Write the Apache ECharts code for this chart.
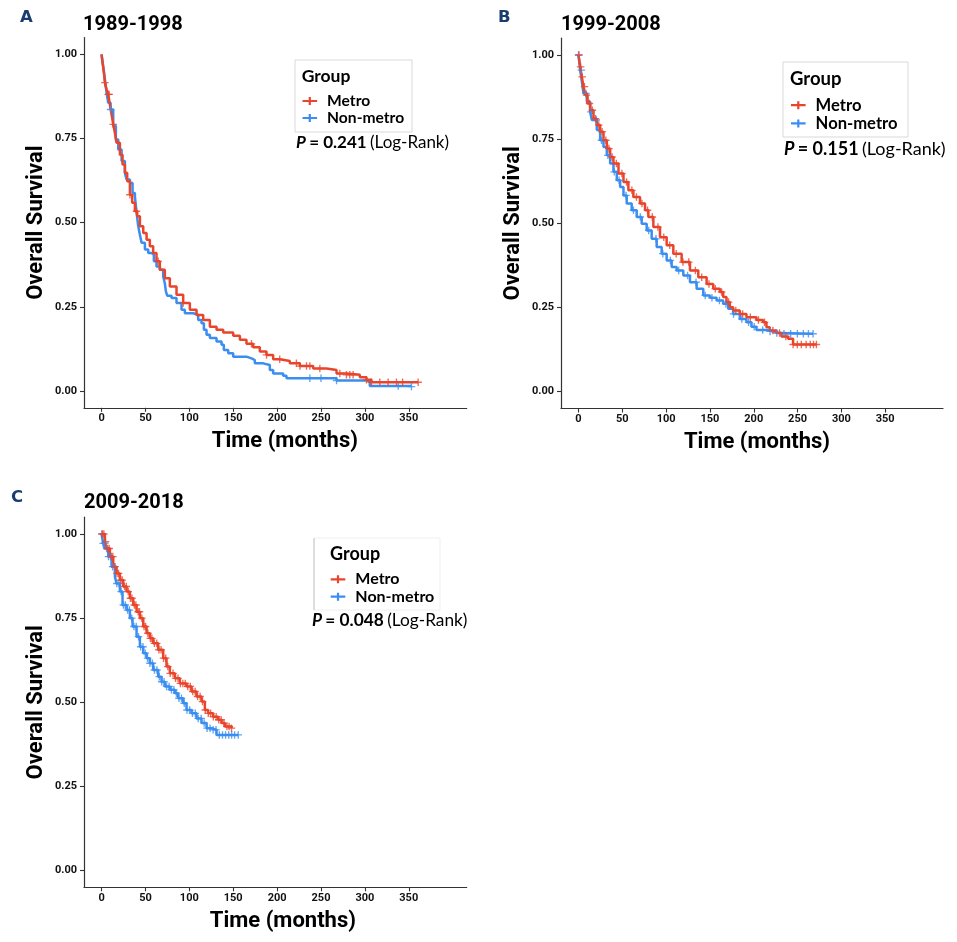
<!DOCTYPE html>
<html>
<head>
<meta charset="utf-8">
<script src="https://cdn.jsdelivr.net/npm/echarts@6/dist/echarts.min.js"></script>
<style>html,body{margin:0;padding:0;background:#fff}#c{width:957px;height:942px}</style>
</head>
<body>
<div id="c"></div>
<script>
// ---------- data (time in months, overall survival) ----------
const panelTitles = ['1989-1998', '1999-2008', '2009-2018'];
const panelLetters = ['A', 'B', 'C'];
const groups = ['Metro', 'Non-metro'];
const pValues = ['0.241', '0.151', '0.048'];
const xTicks = [0, 50, 100, 150, 200, 250, 300, 350];
const yTicks = [0, 0.25, 0.5, 0.75, 1];

const metroA = [[0,1],[1.1,0.975],[2.7,0.945],[3.8,0.916],[5.7,0.896],[7.6,0.881],[9.5,0.851],[11.4,0.821],[13.3,0.792],[15.2,0.767],[17.1,0.737],[20.9,0.702],[23.9,0.673],[26.6,0.648],[29.2,0.623],[32.3,0.583],[34.9,0.559],[38,0.534],[40.6,0.519],[43.7,0.489],[47.5,0.469],[51.3,0.449],[55,0.43],[58.8,0.41],[62.6,0.385],[66.4,0.36],[72.1,0.335],[77.8,0.31],[85.4,0.286],[93,0.261],[100.6,0.241],[108.2,0.226],[115.8,0.211],[123.4,0.191],[131,0.182],[138.6,0.174],[150,0.164],[157.6,0.152],[165.1,0.14],[172.7,0.13],[180.3,0.117],[187.9,0.107],[195.5,0.094],[203.1,0.089],[214.5,0.082],[225.9,0.074],[241.1,0.067],[256.3,0.062],[267.7,0.052],[279,0.048],[294.2,0.041],[301.8,0.033],[307.5,0.026],[360.7,0.026]];
const nonMetroA = [[0,1],[1.9,0.965],[3.8,0.926],[5.7,0.886],[7.6,0.856],[10.3,0.836],[13.3,0.787],[16.3,0.747],[19,0.717],[22.8,0.683],[26.6,0.648],[28.5,0.628],[32.3,0.618],[35.3,0.588],[38,0.578],[39.9,0.529],[41.8,0.489],[43.7,0.464],[45.6,0.44],[49.4,0.42],[53.2,0.41],[56.9,0.405],[59.6,0.385],[62.6,0.37],[66.4,0.36],[70.2,0.34],[72.1,0.32],[73.3,0.296],[74.8,0.283],[79.7,0.276],[85.4,0.261],[91.1,0.241],[94.9,0.231],[104.4,0.226],[110.1,0.211],[113.9,0.201],[116.6,0.182],[119.6,0.167],[123.4,0.157],[131,0.147],[136.7,0.137],[139.3,0.122],[144.3,0.112],[150,0.102],[165.1,0.097],[170.8,0.092],[174.6,0.082],[184.1,0.077],[191.7,0.062],[195.5,0.052],[206.9,0.045],[210.7,0.038],[267.7,0.031],[301.8,0.028],[305.6,0.015],[353.1,0.013]];
const metroB = [[0,1],[1.9,0.965],[3.8,0.935],[5.7,0.906],[7.6,0.881],[10.3,0.856],[13.3,0.836],[17.1,0.811],[20.9,0.792],[24.7,0.772],[28.5,0.747],[32.3,0.722],[36.1,0.697],[39.9,0.678],[45.6,0.648],[51.3,0.623],[56.9,0.598],[62.6,0.578],[70.2,0.559],[75.9,0.539],[79.7,0.519],[85.4,0.489],[93,0.459],[100.6,0.435],[108.2,0.41],[117.7,0.385],[127.2,0.36],[136.7,0.34],[146.2,0.32],[153.8,0.306],[161.4,0.296],[165.1,0.281],[168.9,0.266],[172.7,0.251],[176.5,0.241],[184.1,0.231],[191.7,0.221],[203.1,0.213],[210.7,0.206],[214.5,0.191],[218.3,0.182],[225.9,0.174],[231.6,0.164],[239.2,0.157],[244.9,0.14],[271.5,0.14]];
const nonMetroB = [[0,1],[1.9,0.955],[3.8,0.921],[5.7,0.886],[9.5,0.861],[13.3,0.831],[15.2,0.807],[20.9,0.777],[24.7,0.747],[28.5,0.727],[32.3,0.702],[36.1,0.678],[39.9,0.653],[43.7,0.628],[47.5,0.608],[51.3,0.583],[55,0.559],[60.7,0.539],[66.4,0.519],[72.1,0.499],[77.8,0.479],[83.5,0.454],[89.2,0.43],[94.9,0.41],[100.6,0.39],[106.3,0.37],[112,0.36],[119.6,0.345],[127.2,0.325],[134.8,0.306],[142.4,0.286],[150,0.279],[157.6,0.271],[165.1,0.261],[170.8,0.246],[176.5,0.231],[184.1,0.216],[191.7,0.206],[197.4,0.193],[203.1,0.183],[214.5,0.179],[222.1,0.174],[229.7,0.172],[267.7,0.172]];
const metroC = [[0,1],[3.8,0.977],[5.7,0.957],[9.5,0.933],[13.3,0.903],[17.1,0.883],[20.9,0.863],[24.7,0.844],[28.5,0.829],[32.3,0.809],[36.1,0.789],[39.9,0.769],[43.7,0.75],[47.5,0.725],[51.3,0.705],[55,0.69],[58.8,0.675],[64.5,0.656],[70.2,0.631],[74,0.606],[77.8,0.586],[83.5,0.571],[89.2,0.556],[96.8,0.547],[102.5,0.532],[108.2,0.517],[113.9,0.502],[117.7,0.477],[121.5,0.467],[127.2,0.457],[132.9,0.448],[136.7,0.438],[140.5,0.428],[148.1,0.423]];
const nonMetroC = [[0,1],[1.9,0.972],[3.8,0.957],[7.6,0.933],[11.4,0.903],[15.2,0.873],[17.1,0.853],[20.9,0.829],[23.9,0.789],[28.5,0.774],[32.3,0.75],[35.3,0.725],[39.9,0.695],[43.7,0.665],[47.5,0.646],[51.3,0.631],[55,0.616],[58.8,0.596],[64.5,0.576],[68.3,0.561],[72.1,0.547],[77.8,0.537],[83.5,0.527],[87.3,0.512],[93,0.497],[96.8,0.477],[102.5,0.467],[108.2,0.452],[113.9,0.438],[119.6,0.423],[125.3,0.418],[131,0.403],[155.7,0.403]];

// censored observation times (months)
const censMetroA = [3.8,7.6,8.7,13.3,32.3,39.8,64.5,93,170.8,187.9,203,222,226,233.5,237.3,248.7,271.5,279,282.8,286.6,301.8,307.5,317,326.5,336,343,360.7];
const censNonMetroA = [10.3,237.3,250,267.7,338,353.1];
const censMetroB = [0.5,2.4,4.2,6.8,9.1,12.5,15.8,19.4,23.1,26.9,31.2,34.7,38.3,43.2,49.5,54.8,60.9,66.1,72.4,78.8,84.2,90.6,97.3,104.1,111.5,119.2,125.8,133.4,140.6,148.9,156.1,163.3,171.2,179.5,187.3,196.1,205.4,212.3,221.8,229.4,236.6,244.9,249.7,254.3,259.8,264.5,268.2,271.5];
const censNonMetroB = [0,3.2,8.4,14.1,20.3,26.2,33.5,40.8,46.3,54.2,62.7,70.5,80.1,88.4,96.2,104.8,114.3,124.5,134.1,144.6,152.3,160.8,168.2,176.9,186.4,194.1,200.5,210.2,218.6,226.3,234.5,242.1,249.8,256.6,262.4,267.7];
const censMetroC = [0.8,2.6,4.5,6.9,8.7,11.2,12.8,15.3,17.6,19.4,21.8,23.5,26.1,28.2,30.4,32.9,34.6,37.3,39.1,41.7,43.2,45.9,48.4,50.2,52.8,55.6,57.3,60.2,62.9,65.4,67.8,70.6,73.1,75.5,78.2,81.4,84.3,87.1,89.8,92.6,95.3,98.2,101.1,103.9,106.6,109.4,112.3,115.1,118.2,121.6,124.3,127.4,130.6,133.5,136.2,139.4,142.8,145.3,148.1];
const censNonMetroC = [0.4,1.9,3.6,5.8,7.9,10.2,12.6,14.8,17.4,19.8,22.3,24.9,27.1,29.6,31.8,34.4,36.9,39.5,42.1,44.6,47.2,49.8,52.4,55.1,57.9,60.3,63.1,65.8,68.6,71.2,74.1,76.9,79.6,82.4,85.3,88.2,91.1,94.2,97.3,100.4,103.6,106.8,110.1,113.5,116.9,120.2,123.6,127.1,130.4,134.2,137.8,141.3,144.9,148.2,151.6,155.7];

const curves = [[metroA, nonMetroA], [metroB, nonMetroB], [metroC, nonMetroC]];
const censors = [[censMetroA, censNonMetroA], [censMetroB, censNonMetroB], [censMetroC, censNonMetroC]];

// ---------- layout / style ----------
const COLORS = ['#E8452C', '#3B8EF0'];
const PLUS = 'path://M0,4.1H10V5.9H0Z M4.1,0H5.9V10H4.1Z';
const LEG_ICON = 'path://M0,2.9H14.6V5.1H0Z M6.2,0H8.4V8H6.2Z';
const grids = [
  {left: 84, top: 37.5, width: 382.7, height: 370.3},
  {left: 561, top: 38.2, width: 382, height: 370.3},
  {left: 84, top: 517.2, width: 382.7, height: 370.1}
];
const xNamePad = [19, 10, 15];
const titlePos = [[83, 15], [561, 15], [84, 493]];
const letterPos = [[20, 9], [498, 9], [11, 489]];
const legendCfg = [
  {box: [295, 60, 117, 72], group: [301.7, 76, 17.5], items: [302.5, 92.5, 15.6, 17], p: [296, 142.3, 17]},
  {box: [783, 62, 125, 75], group: [790, 79, 18.5], items: [791, 96, 16.6, 18.3], p: [784, 149, 18]},
  {box: [314, 538, 126, 72], group: [330, 554, 18], items: [330.7, 570.6, 16, 17.4], p: [312, 620, 17.3]}
];

function stepValue(curve, t) {
  let v = curve[0][1];
  for (const p of curve) { if (p[0] <= t) v = p[1]; else break; }
  return v;
}

const option = {
  animation: false,
  backgroundColor: '#fff',
  title: [],
  grid: [],
  xAxis: [],
  yAxis: [],
  legend: [],
  series: [],
  graphic: []
};

for (let i = 0; i < 3; i++) {
  const g = grids[i];
  option.grid.push(Object.assign({outerBoundsMode: 'none', containLabel: false}, g));
  option.title.push({text: panelTitles[i], left: titlePos[i][0], top: titlePos[i][1], padding: 0,
    textStyle: {fontFamily: 'Roboto', fontWeight: 'bold', fontSize: 20, color: '#000'}});
  option.title.push({text: panelLetters[i], left: letterPos[i][0], top: letterPos[i][1], padding: 0,
    textStyle: {fontFamily: 'DejaVu Sans', fontWeight: 'bold', fontSize: 16.5, color: '#1B3C6E'}});
  option.xAxis.push({
    type: 'value', gridIndex: i, min: -20, max: 416,
    name: 'Time (months)', nameLocation: 'middle', nameGap: 23,
    nameTextStyle: {fontFamily: 'Roboto', fontWeight: 'bold', fontSize: 22, color: '#000', padding: [0, 0, 0, xNamePad[i]]},
    axisLine: {show: true, onZero: false, lineStyle: {color: '#333', width: 1.2}},
    axisTick: {show: true, length: 4, lineStyle: {color: '#333', width: 1.1}, customValues: xTicks},
    axisLabel: {fontFamily: 'Roboto', fontWeight: 'bold', fontSize: 11, color: '#111', margin: 5, customValues: xTicks},
    splitLine: {show: false}
  });
  option.yAxis.push({
    type: 'value', gridIndex: i, min: -0.05, max: 1.05,
    name: 'Overall Survival', nameLocation: 'middle', nameGap: 37,
    nameTextStyle: {fontFamily: 'Roboto', fontWeight: 'bold', fontSize: 22, color: '#000'},
    axisLine: {show: true, onZero: false, lineStyle: {color: '#333', width: 1.2}},
    axisTick: {show: true, length: 4, lineStyle: {color: '#333', width: 1.1}, customValues: yTicks},
    axisLabel: {fontFamily: 'Roboto', fontWeight: 'bold', fontSize: 11, color: '#111', margin: 7,
      customValues: yTicks, formatter: v => v.toFixed(2)},
    splitLine: {show: false}
  });
  for (let k = 1; k >= 0; k--) {
    option.series.push({
      type: 'line', name: groups[k], xAxisIndex: i, yAxisIndex: i, step: 'end',
      data: curves[i][k], showSymbol: false, symbol: 'none', color: COLORS[k],
      lineStyle: {color: COLORS[k], width: 2.5}, z: 3
    });
    option.series.push({
      type: 'scatter', name: groups[k], xAxisIndex: i, yAxisIndex: i,
      data: censors[i][k].map(t => [t, stepValue(curves[i][k], t)]),
      symbol: PLUS, symbolSize: 7.5, color: COLORS[k], itemStyle: {color: COLORS[k]}, z: 4
    });
  }
  const L = legendCfg[i];
  option.legend.push({
    orient: 'vertical', left: L.items[0], top: L.items[1], padding: 0, itemGap: 0,
    itemWidth: 14.6, itemHeight: 8, icon: LEG_ICON, selectedMode: false,
    data: groups.map((n, k) => ({name: n, itemStyle: {color: COLORS[k]}})),
    textStyle: {fontFamily: 'Lato', fontWeight: 'bold', fontSize: L.items[2], color: '#000',
      lineHeight: L.items[3], padding: [0, 0, 0, 5]}
  });
  option.graphic.push({
    type: 'rect', shape: {x: L.box[0], y: L.box[1], width: L.box[2], height: L.box[3]},
    style: {fill: 'none', stroke: i === 2 ? '#efefef' : '#d9d9d9', lineWidth: 1}, silent: true
  });
  if (i === 2) {
    option.graphic.push({type: 'line', shape: {x1: L.box[0], y1: L.box[1], x2: L.box[0], y2: L.box[1] + L.box[3]},
      style: {stroke: '#c4c4c4', lineWidth: 1}, silent: true});
  }
  option.graphic.push({
    type: 'text', x: L.group[0], y: L.group[1],
    style: {text: 'Group', fontFamily: 'Lato', fontWeight: 'bold', fontSize: L.group[2], fill: '#000', verticalAlign: 'middle'}
  });
  option.graphic.push({
    type: 'text', x: L.p[0], y: L.p[1],
    style: {
      text: '{p|P} {b|= ' + pValues[i] + '} {r|(Log-Rank)}',
      verticalAlign: 'middle',
      rich: {
        p: {fontFamily: 'Lato', fontWeight: 'bold', fontStyle: 'italic', fontSize: L.p[2], fill: '#000'},
        b: {fontFamily: 'Lato', fontWeight: 'bold', fontSize: L.p[2], fill: '#000'},
        r: {fontFamily: 'Lato', fontSize: L.p[2], fill: '#000'}
      }
    }
  });
}

const chart = echarts.init(document.getElementById('c'), null, {renderer: 'canvas'});
chart.setOption(option);
</script>
</body>
</html>
